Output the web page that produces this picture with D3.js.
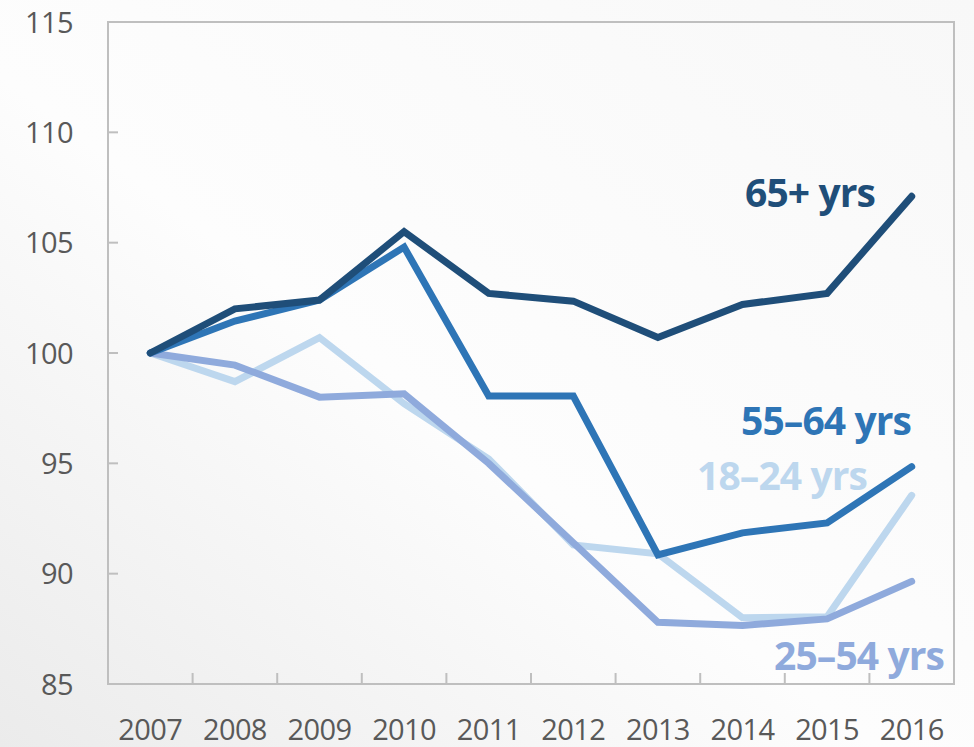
<!DOCTYPE html>
<html>
<head>
<meta charset="utf-8">
<script src="https://cdn.jsdelivr.net/npm/d3@7"></script>
<style>
  html, body { margin: 0; padding: 0; background: #ffffff; }
  svg { display: block; }
  text { font-family: "Open Sans", "Noto Sans", sans-serif; }
</style>
</head>
<body>
<svg id="chart" width="974" height="747"></svg>
<script>
// Index values by age group (2007 = 100)
const years = ["2007", "2008", "2009", "2010", "2011", "2012", "2013", "2014", "2015", "2016"];
const age18to24 = [100, 98.7, 100.7, 97.7, 95.2, 91.3, 90.9, 88.0, 88.05, 93.55];
const age25to54 = [100, 99.45, 98.0, 98.15, 95.0, 91.4, 87.8, 87.65, 87.95, 89.65];
const age55to64 = [100, 101.45, 102.4, 104.8, 98.05, 98.05, 90.85, 91.85, 92.3, 94.85];
const age65plus = [100, 102.0, 102.4, 105.5, 102.7, 102.35, 100.7, 102.2, 102.7, 107.1];
const yTicks = [85, 90, 95, 100, 105, 110, 115];
const seriesLabels = ["18\u201324 yrs", "25\u201354 yrs", "55\u201364 yrs", "65+ yrs"];

const svg = d3.select("#chart");
const W = 974, H = 747;
const plotLeft = 108, plotRight = 954, plotTop = 22, plotBottom = 684;

// soft background wash
const defs = svg.append("defs");
const grad = defs.append("linearGradient").attr("id", "bg")
  .attr("x1", "0%").attr("y1", "100%").attr("x2", "100%").attr("y2", "0%");
grad.append("stop").attr("offset", "0%").attr("stop-color", "#ebebeb");
grad.append("stop").attr("offset", "45%").attr("stop-color", "#fdfdfd");
grad.append("stop").attr("offset", "100%").attr("stop-color", "#f8f8f8");
svg.append("rect").attr("width", W).attr("height", H).attr("fill", "url(#bg)");

const x = d3.scaleBand().domain(years).range([plotLeft, plotRight]).padding(0);
const y = d3.scaleLinear().domain([85, 115]).range([plotBottom, plotTop]);
const cx = d => x(d) + x.bandwidth() / 2;

const frameColor = "#bfbfbf";

// plot frame
svg.append("rect")
  .attr("x", plotLeft).attr("y", plotTop)
  .attr("width", plotRight - plotLeft).attr("height", plotBottom - plotTop)
  .attr("fill", "none").attr("stroke", frameColor).attr("stroke-width", 2);

// x-axis: ticks between categories, pointing inward
const xTickPos = years.slice(1).map(yr => x(yr));
svg.append("g").selectAll("line").data(xTickPos).join("line")
  .attr("x1", d => d).attr("x2", d => d)
  .attr("y1", plotBottom).attr("y2", plotBottom - 11)
  .attr("stroke", frameColor).attr("stroke-width", 2);

svg.append("g").selectAll("text").data(years).join("text")
  .attr("x", d => cx(d)).attr("y", 740)
  .attr("text-anchor", "middle")
  .attr("font-size", 29).attr("letter-spacing", -0.6)
  .attr("fill", "#595959")
  .text(d => d);

// y-axis: ticks pointing inward, labels on the left
svg.append("g").selectAll("line").data(yTicks.filter(v => v > 85 && v < 115)).join("line")
  .attr("x1", plotLeft).attr("x2", plotLeft + 10)
  .attr("y1", d => y(d)).attr("y2", d => y(d))
  .attr("stroke", frameColor).attr("stroke-width", 2);

svg.append("g").selectAll("text").data(yTicks).join("text")
  .attr("x", 73).attr("y", d => y(d) + 10.5)
  .attr("text-anchor", "end")
  .attr("font-size", 29).attr("letter-spacing", -0.6)
  .attr("fill", "#595959")
  .text(d => d);

// series lines (drawn back to front)
const series = [
  { name: seriesLabels[0], values: age18to24, color: "#bdd7ee", lx: 867, ly: 490 },
  { name: seriesLabels[1], values: age25to54, color: "#8faadc", lx: 944, ly: 670 },
  { name: seriesLabels[2], values: age55to64, color: "#2e75b6", lx: 911, ly: 435 },
  { name: seriesLabels[3], values: age65plus, color: "#1f4e79", lx: 875, ly: 207 }
];

const line = d3.line()
  .x((d, i) => cx(years[i]))
  .y(d => y(d));

svg.append("g").selectAll("path").data(series).join("path")
  .attr("d", s => line(s.values))
  .attr("fill", "none")
  .attr("stroke", s => s.color)
  .attr("stroke-width", 7)
  .attr("stroke-linecap", "round")
  .attr("stroke-linejoin", "miter");

// direct labels
svg.append("g").selectAll("text").data(series).join("text")
  .attr("x", s => s.lx).attr("y", s => s.ly)
  .attr("text-anchor", "end")
  .attr("font-size", 39).attr("font-weight", 700)
  .attr("letter-spacing", -0.9)
  .attr("fill", s => s.color)
  .text(s => s.name);
</script>
</body>
</html>
